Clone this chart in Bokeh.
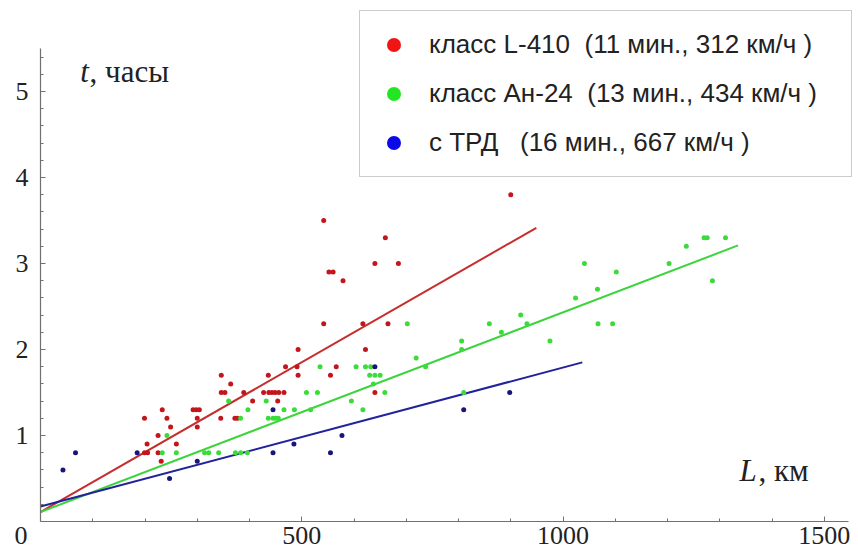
from bokeh.plotting import figure
from bokeh.models import Range1d, FixedTicker, Label, Legend, LegendItem
from bokeh.embed import file_html
from bokeh.resources import INLINE

# ---- data ----
red_L = [199, 233, 242, 249, 225, 204, 199, 205, 225, 260, 231,
         292, 298, 304, 300, 300, 345, 346, 353, 364, 372, 377, 389, 406,
         427, 437, 443, 449, 456, 466, 454, 346, 436, 469, 491, 493, 493,
         555, 566, 622, 640, 542, 617, 665, 542, 660, 552, 560, 579, 640, 685, 900]
red_t = [1.2, 1.3, 1.2, 1.1, 1.0, 0.9, 0.8, 0.8, 0.8, 0.9, 0.7,
         1.3, 1.3, 1.3, 1.2, 1.1, 1.2, 1.5, 1.5, 1.6, 1.2, 1.2, 1.5, 1.4,
         1.5, 1.5, 1.5, 1.5, 1.5, 1.5, 1.4, 1.7, 1.7, 1.8, 1.8, 1.7, 2.0,
         1.7, 1.8, 2.0, 1.5, 2.3, 2.3, 2.3, 3.5, 3.3, 2.9, 2.9, 2.8, 3.0, 3.0, 3.8]

green_L = [242, 233, 260, 314, 322, 341, 373, 383, 396,
           360, 397, 383, 432, 436, 445, 450, 455, 466, 486, 517,
           509, 530, 535, 595, 617, 604, 622, 632, 630, 640, 650, 637, 659,
           702, 719, 737, 806, 806, 810, 859, 882, 919, 931, 975,
           1024, 1041, 1066, 1067, 1095, 1102, 1203, 1236, 1270, 1276, 1311, 1286]
green_t = [1.0, 0.8, 0.8, 0.8, 0.8, 0.8, 0.8, 0.8, 0.8,
           1.4, 1.3, 1.2, 1.4, 1.2, 1.2, 1.2, 1.2, 1.3, 1.3, 1.3,
           1.5, 1.5, 1.8, 1.4, 1.3, 1.8, 1.8, 1.8, 1.7, 1.7, 1.7, 1.6, 1.5,
           2.3, 1.9, 1.8, 2.1, 2.0, 1.5, 2.3, 2.2, 2.4, 2.3, 2.1,
           2.6, 3.0, 2.7, 2.3, 2.3, 2.9, 3.0, 3.2, 3.3, 3.3, 3.3, 2.8]

blue_L = [43, 67, 185, 247, 300, 445, 485, 445, 555, 577, 640, 810, 898]
blue_t = [0.6, 0.8, 0.8, 0.5, 0.7, 0.8, 0.9, 1.3, 0.8, 1.0, 1.8, 1.3, 1.5]

red_line_L = [0, 949]
red_line_t = [0.11, 3.415]
green_line_L = [0, 1335]
green_line_t = [0.11, 3.21]
blue_line_L = [0, 1037]
blue_line_t = [0.174, 1.85]

x_ticks = [0, 500, 1000, 1500]
x_tick_labels = {0: "0\u2007\u2007\u2007", 500: "500", 1000: "1000", 1500: "1500"}
x_minor = [100, 200, 300, 400, 600, 700, 800, 900, 1100, 1200, 1300, 1400]
y_ticks = [1, 2, 3, 4, 5]
y_minor = [0.2, 0.4, 0.6, 0.8, 1.2, 1.4, 1.6, 1.8, 2.2, 2.4, 2.6, 2.8,
           3.2, 3.4, 3.6, 3.8, 4.2, 4.4, 4.6, 4.8, 5.2, 5.4]

legend_labels = ["класс L-410  (11 мин., 312 км/ч )",
                 "класс Ан-24  (13 мин., 434 км/ч )",
                 "с ТРД   (16 мин., 667 км/ч )"]

# ---- figure (frame fills the canvas; axes are pinned at the origin) ----
p = figure(width=858, height=551, output_backend="svg", toolbar_location=None,
           x_range=Range1d(-76.555, 1565.55), y_range=Range1d(-0.34884, 6.05814),
           min_border_left=0, min_border_bottom=0, min_border_top=0, min_border_right=0)
p.outline_line_color = None
p.xgrid.visible = False
p.ygrid.visible = False
p.background_fill_color = "white"
p.border_fill_color = "white"

for ax in (p.xaxis, p.yaxis):
    ax.fixed_location = 0
    ax.axis_line_color = "#707070"
    ax.axis_line_width = 1.2
    ax.major_tick_line_color = "#707070"
    ax.minor_tick_line_color = "#707070"
    ax.major_tick_in = 5
    ax.major_tick_out = 0
    ax.minor_tick_in = 3
    ax.minor_tick_out = 0
    ax.major_label_text_font = "Liberation Serif"
    ax.major_label_text_font_size = "26px"
    ax.major_label_text_color = "#222222"

p.xaxis.ticker = FixedTicker(ticks=x_ticks, minor_ticks=x_minor)
p.xaxis.major_label_overrides = x_tick_labels
p.yaxis.ticker = FixedTicker(ticks=y_ticks, minor_ticks=y_minor)
p.xaxis.bounds = (0, 1546)
p.yaxis.bounds = (0, 5.5)
p.xaxis.major_label_standoff = 0
p.yaxis.major_label_standoff = 12

# regression lines
p.line(red_line_L, red_line_t, line_color="#C62D2D", line_width=2)
p.line(green_line_L, green_line_t, line_color="#3CD43C", line_width=2)
p.line(blue_line_L, blue_line_t, line_color="#22229C", line_width=2)

# points
p.scatter(red_L, red_t, size=5, fill_color="#C4141C", line_color=None)
p.scatter(green_L, green_t, size=5, fill_color="#3ADC3A", line_color=None)
p.scatter(blue_L, blue_t, size=5, fill_color="#16167A", line_color=None)

# legend (proxy renderers placed outside the visible ranges)
lr = p.scatter(x=[-5000], y=[-50], size=14, fill_color="#F01414", line_color=None)
lg = p.scatter(x=[-5000], y=[-50], size=14, fill_color="#22E622", line_color=None)
lb = p.scatter(x=[-5000], y=[-50], size=14, fill_color="#0A0AE6", line_color=None)
legend = Legend(items=[LegendItem(label=legend_labels[0], renderers=[lr]),
                       LegendItem(label=legend_labels[1], renderers=[lg]),
                       LegendItem(label=legend_labels[2], renderers=[lb])],
                location=(359, 374), padding=16, spacing=14,
                glyph_width=35, glyph_height=35, label_standoff=18, label_width=406,
                label_text_font="Liberation Sans", label_text_font_size="26px",
                label_text_color="#222222",
                border_line_color="#999999", border_line_width=1.5,
                background_fill_color="white", background_fill_alpha=1.0, margin=0)
p.add_layout(legend)

# axis titles
p.add_layout(Label(x=76, y=5.23, text="t", text_font="Liberation Serif",
                   text_font_style="italic", text_font_size="31px",
                   text_color="#222222", text_baseline="alphabetic"))
p.add_layout(Label(x=94, y=5.23, text=", часы", text_font="Liberation Serif",
                   text_font_size="31px", text_color="#222222", text_baseline="alphabetic"))
p.add_layout(Label(x=1338, y=0.59, text="L", text_font="Liberation Serif",
                   text_font_style="italic", text_font_size="31px",
                   text_color="#222222", text_baseline="alphabetic"))
p.add_layout(Label(x=1374, y=0.59, text=", км", text_font="Liberation Serif",
                   text_font_size="31px", text_color="#222222", text_baseline="alphabetic"))

open("out.html", "w").write(file_html(p, INLINE))
